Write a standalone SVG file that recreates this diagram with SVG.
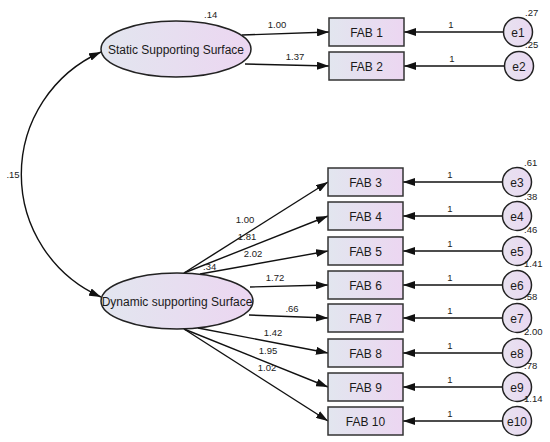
<svg xmlns="http://www.w3.org/2000/svg" width="550" height="442" viewBox="0 0 550 442">
<defs>
<linearGradient id="g" x1="0" y1="0" x2="1" y2="0">
<stop offset="0" stop-color="#e2e6ef"/>
<stop offset="1" stop-color="#ecd6f1"/>
</linearGradient>
<linearGradient id="gc" x1="0" y1="0" x2="1" y2="0">
<stop offset="0" stop-color="#e8e2f0"/>
<stop offset="1" stop-color="#e9d8f1"/>
</linearGradient>
<marker id="ah" viewBox="0 0 12 8" refX="12" refY="4" markerWidth="12" markerHeight="8" orient="auto-start-reverse" markerUnits="userSpaceOnUse">
<path d="M0,0 L12,4 L0,8 z" fill="#111"/>
</marker>
<style>
.box{fill:url(#g);stroke:#333;stroke-width:1.5}
.lat{fill:url(#g);stroke:#222;stroke-width:1.5}
.err{fill:url(#gc);stroke:#222;stroke-width:1.5}
.t{font-family:"Liberation Sans",Arial,sans-serif;font-size:12px;fill:#1a1a1a;text-anchor:middle}
.s{font-family:"Liberation Sans",Arial,sans-serif;font-size:9.5px;fill:#222;text-anchor:middle}
.v{font-family:"Liberation Sans",Arial,sans-serif;font-size:9.5px;fill:#222;text-anchor:start}
.c{fill:none;stroke:#111;stroke-width:1.4;marker-end:url(#ah)}
.cc{fill:none;stroke:#111;stroke-width:1.4;marker-end:url(#ah);marker-start:url(#ah)}
</style>
</defs>
<rect width="550" height="442" fill="#fff"/>

<g id="connectors">
<path class="cc" d="M101,52 A134,134 0 0 0 101,297"/>
<line class="c" x1="242" y1="35" x2="329" y2="32"/>
<line class="c" x1="245" y1="64" x2="329" y2="66"/>
<line class="c" x1="184" y1="273" x2="328" y2="182"/>
<line class="c" x1="184" y1="273" x2="328" y2="216"/>
<line class="c" x1="200" y1="274" x2="328" y2="251"/>
<line class="c" x1="250" y1="287" x2="328" y2="285"/>
<line class="c" x1="249" y1="315" x2="328" y2="318"/>
<line class="c" x1="198" y1="328" x2="328" y2="353"/>
<line class="c" x1="184" y1="329" x2="328" y2="387"/>
<line class="c" x1="184" y1="329" x2="328" y2="421"/>
<line class="c" x1="503" y1="32" x2="404" y2="32"/>
<line class="c" x1="504" y1="66" x2="404" y2="66"/>
<line class="c" x1="502" y1="182" x2="403" y2="182"/>
<line class="c" x1="502" y1="216" x2="403" y2="216"/>
<line class="c" x1="502" y1="251" x2="403" y2="251"/>
<line class="c" x1="502" y1="285" x2="403" y2="285"/>
<line class="c" x1="502" y1="318" x2="403" y2="318"/>
<line class="c" x1="502" y1="353" x2="403" y2="353"/>
<line class="c" x1="502" y1="387" x2="403" y2="387"/>
<line class="c" x1="502" y1="421" x2="403" y2="421"/>
<text class="s" x="13" y="178">.15</text>
<text class="s" x="277" y="28">1.00</text>
<text class="s" x="295" y="60">1.37</text>
<text class="s" x="245" y="223">1.00</text>
<text class="s" x="247" y="240">1.81</text>
<text class="s" x="253" y="257">2.02</text>
<text class="s" x="275" y="281">1.72</text>
<text class="s" x="292" y="312">.66</text>
<text class="s" x="273" y="336">1.42</text>
<text class="s" x="268" y="354">1.95</text>
<text class="s" x="267" y="371">1.02</text>
<text class="s" x="451" y="28">1</text>
<text class="s" x="452" y="62">1</text>
<text class="s" x="450" y="178">1</text>
<text class="s" x="450" y="212">1</text>
<text class="s" x="450" y="247">1</text>
<text class="s" x="450" y="281">1</text>
<text class="s" x="450" y="314">1</text>
<text class="s" x="450" y="349">1</text>
<text class="s" x="450" y="383">1</text>
<text class="s" x="450" y="417">1</text>
</g>

<g id="static">
<ellipse class="lat" cx="176" cy="49" rx="75" ry="28"/>
<text class="t" x="176" y="53.5">Static Supporting Surface</text>
<text class="v" x="204" y="18">.14</text>
</g>
<g id="dynamic">
<ellipse class="lat" cx="177" cy="301" rx="76" ry="28"/>
<text class="t" x="177" y="306">Dynamic supporting Surface</text>
<text class="v" x="203" y="270">.34</text>
</g>

<g id="fab1"><rect class="box" x="329" y="18" width="75" height="28"/><text class="t" x="366.5" y="36.5">FAB 1</text></g>
<g id="fab2"><rect class="box" x="329" y="52" width="75" height="28"/><text class="t" x="366.5" y="70.5">FAB 2</text></g>
<g id="fab3"><rect class="box" x="328" y="168" width="75" height="28"/><text class="t" x="365.5" y="186.5">FAB 3</text></g>
<g id="fab4"><rect class="box" x="328" y="202" width="75" height="28"/><text class="t" x="365.5" y="220.5">FAB 4</text></g>
<g id="fab5"><rect class="box" x="328" y="237" width="75" height="28"/><text class="t" x="365.5" y="255.5">FAB 5</text></g>
<g id="fab6"><rect class="box" x="328" y="271" width="75" height="28"/><text class="t" x="365.5" y="289.5">FAB 6</text></g>
<g id="fab7"><rect class="box" x="328" y="304" width="75" height="28"/><text class="t" x="365.5" y="322.5">FAB 7</text></g>
<g id="fab8"><rect class="box" x="328" y="339" width="75" height="28"/><text class="t" x="365.5" y="357.5">FAB 8</text></g>
<g id="fab9"><rect class="box" x="328" y="373" width="75" height="28"/><text class="t" x="365.5" y="391.5">FAB 9</text></g>
<g id="fab10"><rect class="box" x="328" y="407" width="75" height="28"/><text class="t" x="365.5" y="425.5">FAB 10</text></g>

<g id="e1"><circle class="err" cx="518" cy="32" r="14.5"/><text class="t" x="518" y="36.5">e1</text><text class="v" x="525" y="16">.27</text></g>
<g id="e2"><circle class="err" cx="519" cy="66" r="14.5"/><text class="t" x="519" y="70.5">e2</text><text class="v" x="525" y="48">.25</text></g>
<g id="e3"><circle class="err" cx="517" cy="182" r="14.5"/><text class="t" x="517" y="186.5">e3</text><text class="v" x="524" y="166">.61</text></g>
<g id="e4"><circle class="err" cx="517" cy="216" r="14.5"/><text class="t" x="517" y="220.5">e4</text><text class="v" x="524" y="200">.38</text></g>
<g id="e5"><circle class="err" cx="517" cy="251" r="14.5"/><text class="t" x="517" y="255.5">e5</text><text class="v" x="524" y="233">.46</text></g>
<g id="e6"><circle class="err" cx="517" cy="285" r="14.5"/><text class="t" x="517" y="289.5">e6</text><text class="v" x="524" y="267">1.41</text></g>
<g id="e7"><circle class="err" cx="517" cy="318" r="14.5"/><text class="t" x="517" y="322.5">e7</text><text class="v" x="524" y="300">.58</text></g>
<g id="e8"><circle class="err" cx="517" cy="353" r="14.5"/><text class="t" x="517" y="357.5">e8</text><text class="v" x="524" y="335">2.00</text></g>
<g id="e9"><circle class="err" cx="517" cy="387" r="14.5"/><text class="t" x="517" y="391.5">e9</text><text class="v" x="524" y="369">.78</text></g>
<g id="e10"><circle class="err" cx="517" cy="421" r="14.5"/><text class="t" x="517" y="425.5">e10</text><text class="v" x="524" y="402">1.14</text></g>
</svg>
